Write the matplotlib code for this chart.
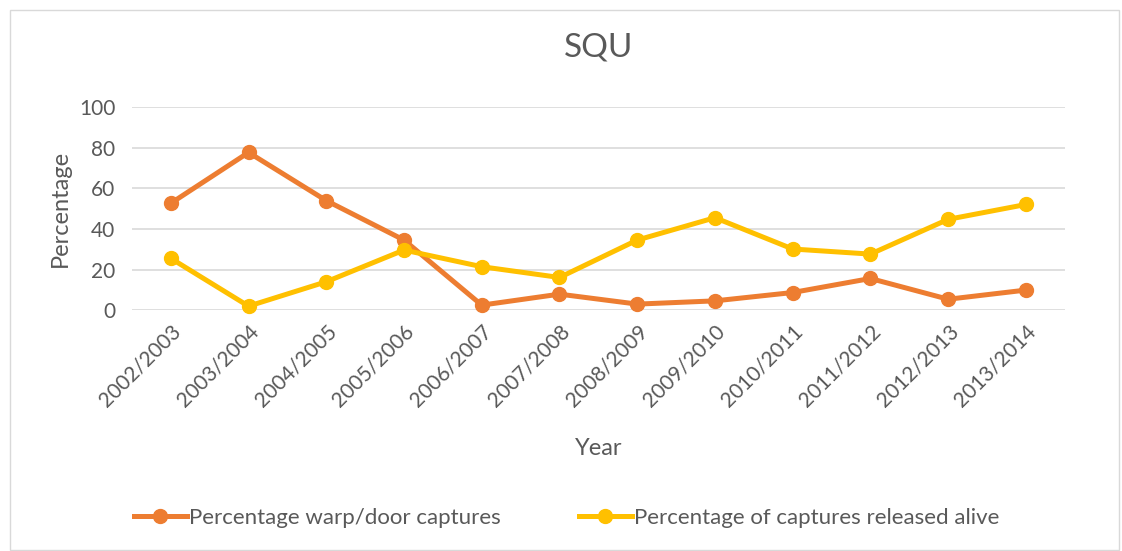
import matplotlib
matplotlib.use("Agg")
from matplotlib import pyplot as plt
from matplotlib.patches import Rectangle

years = ["2002/2003", "2003/2004", "2004/2005", "2005/2006", "2006/2007", "2007/2008",
         "2008/2009", "2009/2010", "2010/2011", "2011/2012", "2012/2013", "2013/2014"]
warp_door = [52.6, 77.6, 53.9, 34.5, 2.5, 7.9, 3.0, 4.6, 8.7, 15.6, 5.4, 9.9]
released_alive = [25.5, 2.0, 14.0, 29.6, 21.4, 16.1, 34.5, 45.5, 30.1, 27.6, 44.7, 52.0]

plt.rcParams['font.family'] = ['Lato', 'DejaVu Sans']
text_col = "#595959"

fig = plt.figure(figsize=(11.22, 5.51), dpi=100)
ax = fig.add_axes([0.1176, 0.437, 0.8314, 0.369])

# outer chart border
fig.patches.append(Rectangle((0.009, 0.002), 0.988, 0.98, transform=fig.transFigure,
                             fill=False, edgecolor="#D9D9D9", linewidth=1))

x = list(range(len(years)))
ax.plot(x, warp_door, color="#ED7D31", linewidth=3.6, marker="o", markersize=10,
        label="Percentage warp/door captures", clip_on=False, zorder=3)
ax.plot(x, released_alive, color="#FFC000", linewidth=3.6, marker="o", markersize=10,
        label="Percentage of captures released alive", clip_on=False, zorder=4)

ax.set_xlim(-0.5, len(years) - 0.5)
ax.set_ylim(0, 100)
ax.set_yticks([0, 20, 40, 60, 80, 100])
ax.set_xticks(x)
ax.set_xticklabels(years, rotation=45, ha="right", rotation_mode="anchor")
ax.tick_params(axis="both", length=0, labelsize=15, colors=text_col)
ax.tick_params(axis="x", pad=8)
ax.tick_params(axis="y", pad=12)
ax.grid(axis="y", color="#D9D9D9", linewidth=1.2)
ax.set_axisbelow(True)
for s in ax.spines.values():
    s.set_visible(False)

ax.set_title("SQU", fontsize=24, color=text_col, pad=36)
ax.set_ylabel("Percentage", fontsize=17, color=text_col, labelpad=6)
ax.set_xlabel("Year", fontsize=17, color=text_col, labelpad=20)

fig.legend(loc="center", bbox_to_anchor=(0.505, 0.06), ncol=2, frameon=False,
           fontsize=16, labelcolor=text_col, handlelength=2.4, handletextpad=0.1,
           columnspacing=3.5)

fig.savefig("out.png", dpi=100)
